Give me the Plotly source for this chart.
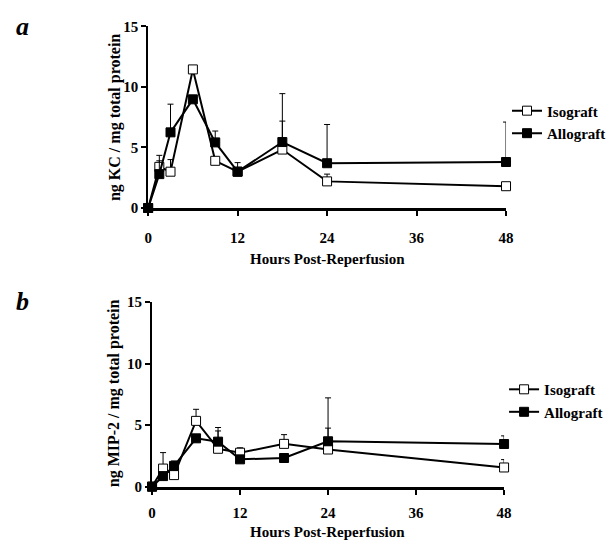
import plotly.graph_objects as go

hours = [0, 1.5, 3, 6, 9, 12, 18, 24, 48]
x_ticks = [0, 12, 24, 36, 48]
y_ticks = [0, 5, 10, 15]

# Panel a: KC
kc_iso = [0, 3.4, 3.0, 11.45, 3.9, 3.0, 4.83, 2.2, 1.8]
kc_iso_err = [0, 0.95, 1.0, 0, 0, 0.75, 2.35, 0.6, 0]
kc_allo = [0, 2.8, 6.25, 8.98, 5.42, 3.0, 5.45, 3.7, 3.8]
kc_allo_err = [0, 1.1, 2.33, 0, 0.94, 0, 4.0, 3.2, 3.3]

# Panel b: MIP-2
mip_iso = [0, 1.47, 0.94, 5.35, 3.08, 2.76, 3.48, 3.02, 1.56]
mip_iso_err = [0, 1.3, 0, 0.94, 1.45, 0.4, 0.75, 1.74, 0.64]
mip_allo = [0, 0.86, 1.69, 3.93, 3.66, 2.22, 2.33, 3.69, 3.47]
mip_allo_err = [0, 0, 0.4, 0, 1.15, 0, 0, 3.53, 0.66]

FONT = "Liberation Serif"
W, H = 616, 550


def px(v):
    return v / W


def py(v):
    return 1 - v / H


zeros = [0] * len(hours)


def add_pair(fig, iso, iso_err, allo, allo_err, xa, ya, leg):
    fig.add_trace(go.Scatter(
        x=hours, y=iso, name="Isograft", mode="lines+markers",
        xaxis=xa, yaxis=ya, legend=leg, cliponaxis=False,
        line=dict(color="black", width=2),
        marker=dict(symbol="square", size=9, color="white",
                    line=dict(color="black", width=1)),
        error_y=dict(type="data", symmetric=False, array=iso_err,
                     arrayminus=zeros, color="black", thickness=1, width=3),
    ))
    fig.add_trace(go.Scatter(
        x=hours, y=allo, name="Allograft", mode="lines+markers",
        xaxis=xa, yaxis=ya, legend=leg, cliponaxis=False,
        line=dict(color="black", width=2),
        marker=dict(symbol="square", size=9, color="black",
                    line=dict(color="black", width=1)),
        error_y=dict(type="data", symmetric=False, array=allo_err,
                     arrayminus=zeros, color="black", thickness=1, width=3),
    ))


fig = go.Figure()
add_pair(fig, kc_iso, kc_iso_err, kc_allo, kc_allo_err, "x", "y", "legend")
add_pair(fig, mip_iso, mip_iso_err, mip_allo, mip_allo_err, "x2", "y2", "legend2")

tickfont = dict(family=FONT, size=15, color="black", weight="bold")

xcommon = dict(range=[0, 48], tickvals=x_ticks, ticktext=[str(t) for t in x_ticks],
               showline=True, linecolor="black", linewidth=3, ticks="outside",
               ticklen=5, tickwidth=2, tickcolor="black", showgrid=False,
               zeroline=False, tickfont=tickfont, fixedrange=True)
ycommon = dict(range=[0, 15], tickvals=y_ticks, ticktext=[str(t) for t in y_ticks],
               showline=True, linecolor="black", linewidth=2, ticks="outside",
               ticklen=5, tickwidth=2, tickcolor="black", showgrid=False,
               zeroline=False, tickfont=tickfont, fixedrange=True)

legfont = dict(family=FONT, size=15, color="black", weight="bold")

fig.update_layout(
    width=W, height=H,
    margin=dict(l=0, r=0, t=0, b=0),
    paper_bgcolor="white", plot_bgcolor="white",
    xaxis=dict(domain=[px(147), px(512)], anchor="y", ticklabelstandoff=9, **xcommon),
    yaxis=dict(domain=[py(206), py(19)], anchor="x", **ycommon),
    xaxis2=dict(domain=[px(151), px(510)], anchor="y2", ticklabelstandoff=5, **xcommon),
    yaxis2=dict(domain=[py(493), py(303)], anchor="x2", **ycommon),
    legend=dict(x=px(513), y=py(89), xanchor="left", yanchor="top",
                font=legfont, bgcolor="rgba(0,0,0,0)", traceorder="normal"),
    legend2=dict(x=px(510), y=py(376), xanchor="left", yanchor="top",
                 font=legfont, bgcolor="rgba(0,0,0,0)", traceorder="normal"),
    showlegend=True,
)

titlefont = dict(family=FONT, size=15, color="black", weight="bold")
ytitlefont = dict(family=FONT, size=16, color="black", weight="bold")
labelfont = dict(family=FONT, size=26, color="black", weight="bold", style="italic")

annots = [
    dict(text="Hours Post-Reperfusion", x=px(330), y=py(259), font=titlefont),
    dict(text="Hours Post-Reperfusion", x=px(330), y=py(540), font=titlefont),
    dict(text="ng KC / mg total protein", x=px(113), y=py(112.5), font=ytitlefont, textangle=-90),
    dict(text="ng MIP-2 / mg total protein", x=px(113), y=py(397), font=ytitlefont, textangle=-90),
    dict(text="a", x=px(19), y=py(19), font=labelfont),
    dict(text="b", x=px(19), y=py(302), font=labelfont),
]
for a in annots:
    fig.add_annotation(xref="paper", yref="paper", showarrow=False,
                       xanchor="center", yanchor="middle", **a)

fig.write_html("out.html", config={"displayModeBar": False},
               post_script="document.body.style.margin='0px';")
